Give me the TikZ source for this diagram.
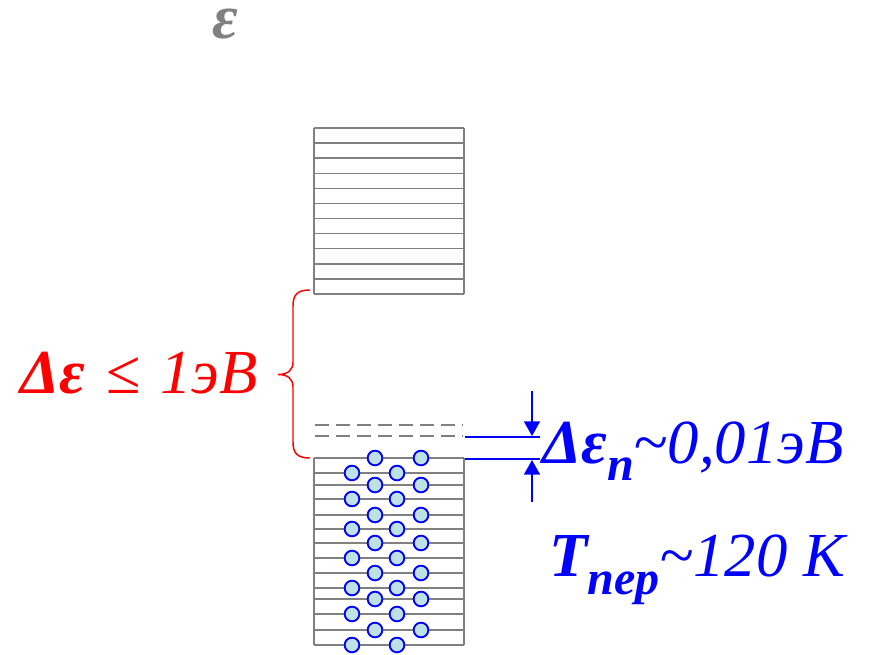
\documentclass[tikz,border=0pt]{standalone}
\usepackage{fontspec}
\setmainfont{Liberation Serif}
\usetikzlibrary{arrows.meta}
\definecolor{levelgray}{RGB}{128,128,128}
\definecolor{elecfill}{RGB}{190,225,230}
\newcommand{\lowsub}[2]{\raisebox{-#1}{\fontsize{36}{40}\selectfont\bfseries\itshape #2}}
\begin{document}
\begin{tikzpicture}[x=0.75pt,y=-0.75pt,
  level/.style={draw=levelgray,line width=1.1pt},
  gaplevel/.style={draw=levelgray,line width=1.1pt,dash pattern=on 10.5pt off 5.25pt},
  electron/.style={circle,draw=blue,fill=elecfill,line width=1.4pt,minimum size=11pt,inner sep=0},
  gapline/.style={draw=blue,line width=1.2pt},
  gaparrow/.style={draw=blue,line width=1.2pt,-{Triangle[length=11pt,width=12pt]}},
  lbl/.style={inner sep=0,anchor=base west,font=\fontsize{47}{50}\selectfont}
]
\useasboundingbox (0,0) rectangle (873,654);

% energy axis symbol
\node[inner sep=0,anchor=base west,text height=0.5em,text=levelgray,
  font=\fontsize{47}{47}\selectfont\bfseries\itshape] (eps) at (212,38) {ε};

% conduction band (empty levels)
\foreach \i in {0,...,11}
  \draw[level] (314,{128+15.09*\i}) -- (464,{128+15.09*\i});
\draw[level] (314,128) -- (314,294);
\draw[level] (464,128) -- (464,294);

% impurity levels in the gap
\draw[gaplevel] (315,425) -- (463,425);
\draw[gaplevel] (315,436) -- (463,436);

% valence band, filled with electrons
\foreach \y in {458,473,485,499,515,529,543,558,573,588,599,614,630,645}
  \draw[level] (314,\y) -- (464,\y);
\draw[level] (314,458) -- (314,645);
\draw[level] (464,458) -- (464,645);
\foreach \y [count=\k] in {458,485,515,543,573,599,630} {
  \node[electron] (ea\k) at (375,\y) {};
  \node[electron] (eb\k) at (421,\y) {};
}
\foreach \y [count=\k] in {473,499,529,558,588,614,645} {
  \node[electron] (ec\k) at (352,\y) {};
  \node[electron] (ed\k) at (397,\y) {};
}

% gap width brace
\draw[red,line width=1.1pt] (310,290) .. controls (297,290) and (293,295) .. (293,306)
  -- (293,362) .. controls (293,370) and (288,374.5) .. (278,374.5)
  .. controls (288,374.5) and (293,379) .. (293,387)
  -- (293,442) .. controls (293,453) and (297,458) .. (310,458);
\node[lbl,text=red] (gap) at (20,393)
  {{\bfseries\itshape Δε}\hspace{4pt} ≤ \hspace{3pt}{\itshape 1эВ}};

% impurity level separation
\coordinate (ua) at (465,437);
\coordinate (ub) at (540,437);
\coordinate (la) at (465,459);
\coordinate (lb) at (540,459);
\draw[gapline] (ua) -- (ub);
\draw[gapline] (la) -- (lb);
\coordinate (dtop) at (532,391);
\coordinate (dtip) at (532,436);
\coordinate (utop) at (532,502);
\coordinate (utip) at (532,460);
\draw[gaparrow] (dtop) -- (dtip);
\draw[gaparrow] (utop) -- (utip);
\node[lbl,text=blue] (den) at (542,463)
  {{\bfseries\itshape Δε}\lowsub{12.75pt}{n}{\itshape \char`\~0,01эВ}};
\node[lbl,text=blue] (tper) at (549,576)
  {{\bfseries\itshape T}\lowsub{14pt}{пер}{\itshape \char`\~120 К}};
\end{tikzpicture}
\end{document}
